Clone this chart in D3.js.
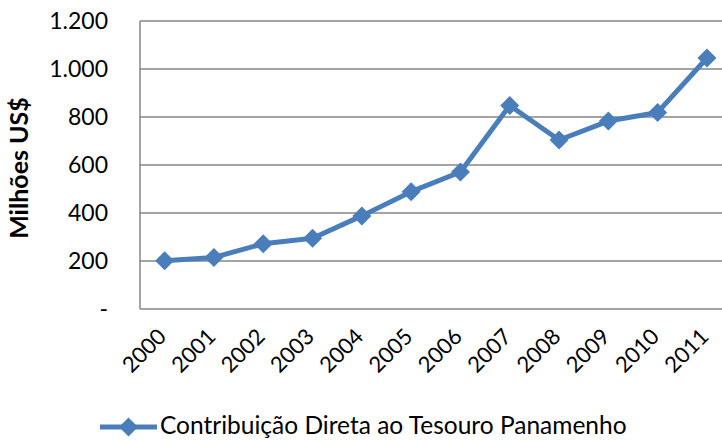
<!DOCTYPE html>
<html><head><meta charset="utf-8">
<script src="https://cdn.jsdelivr.net/npm/d3@7"></script>
<style>body{margin:0;background:#fff}svg{display:block}text{font-family:Lato,"Open Sans",sans-serif;fill:#000}</style>
</head><body>
<svg id="c" width="722" height="440"></svg>
<script>
const years = ["2000","2001","2002","2003","2004","2005","2006","2007","2008","2009","2010","2011"];
const values = [201, 215, 272, 295, 388, 489, 571, 848, 704, 783, 819, 1046];
const yTicks = [0, 200, 400, 600, 800, 1000, 1200];
const yTickLabels = ["-", "200", "400", "600", "800", "1.000", "1.200"];
const seriesName = "Contribuição Direta ao Tesouro Panamenho";
const yTitle = "Milhões US$";

const svg = d3.select("#c");
const plotLeft = 140, plotTop = 21, plotBottom = 309, band = 49.3;
const x = d3.scaleBand().domain(years).range([plotLeft, plotLeft + band * years.length]);
const y = d3.scaleLinear().domain([0, 1200]).range([plotBottom, plotTop]);
const color = "#4A7EBB";
const grid = "#868686";

// gridlines
svg.append("g").selectAll("line").data(yTicks).join("line")
  .attr("x1", plotLeft).attr("x2", 722)
  .attr("y1", d => y(d)).attr("y2", d => y(d))
  .attr("stroke", grid).attr("stroke-width", 1.5);
// y axis line
svg.append("line").attr("x1", plotLeft).attr("x2", plotLeft).attr("y1", plotTop).attr("y2", plotBottom)
  .attr("stroke", grid).attr("stroke-width", 1.5);

// y tick labels
svg.append("g").selectAll("text").data(yTicks).join("text")
  .attr("x", 108).attr("y", d => y(d)).attr("dy", "0.35em")
  .attr("text-anchor", "end").style("font-size", "23px")
  .text((d, i) => yTickLabels[i]);

// y title
svg.append("text").attr("transform", `translate(28,168) rotate(-90)`)
  .attr("text-anchor", "middle").style("font-size", "25px").style("font-weight", "bold")
  .text(yTitle);

// x tick labels
svg.append("g").selectAll("text").data(years).join("text")
  .attr("transform", d => `translate(${x(d) + x.bandwidth()/2 + 3},${plotBottom + 29}) rotate(-45)`)
  .attr("text-anchor", "end").style("font-size", "22px")
  .text(d => d);

// line
const line = d3.line().x((d, i) => x(years[i]) + x.bandwidth()/2).y(d => y(d));
svg.append("path").datum(values).attr("d", line)
  .attr("fill", "none").attr("stroke", color).attr("stroke-width", 5).attr("stroke-linejoin", "round");

const diamond = d3.symbol().type(d3.symbolDiamond2).size(230);
svg.append("g").selectAll("path").data(values).join("path")
  .attr("transform", (d, i) => `translate(${x(years[i]) + x.bandwidth()/2},${y(d)})`)
  .attr("d", diamond).attr("fill", color);

// legend
const ly = 427;
svg.append("line").attr("x1", 100).attr("x2", 157).attr("y1", ly).attr("y2", ly)
  .attr("stroke", color).attr("stroke-width", 5);
svg.append("path").attr("transform", `translate(128.5,${ly})`).attr("d", diamond).attr("fill", color);
svg.append("text").attr("x", 160).attr("y", 434).style("font-size", "24.5px")
  .text(seriesName);
</script>
</body></html>
